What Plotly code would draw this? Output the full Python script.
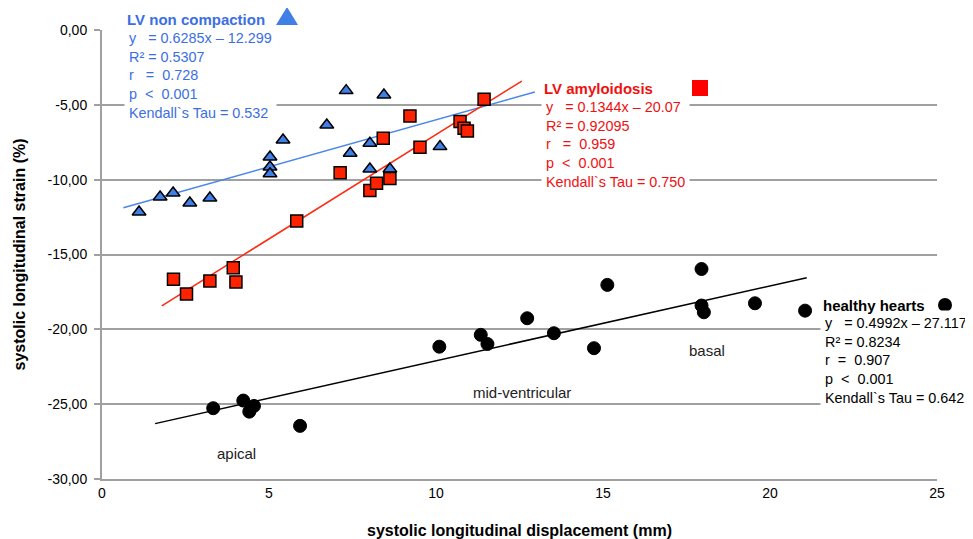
import numpy as np
import plotly.graph_objects as go

# ---------------- data ----------------
lvnc_x = [1.11, 1.74, 2.13, 2.63, 3.23, 5.03, 5.03, 5.03, 5.42, 6.73, 7.31, 7.43, 8.02, 8.02, 8.44, 8.62, 10.12]
lvnc_y = [-12.16, -11.16, -10.89, -11.56, -11.22, -8.48, -9.15, -9.6, -7.35, -6.35, -4.05, -8.24, -9.29, -7.57, -4.34, -9.29, -7.79]

amy_x = [2.14, 2.53, 3.23, 3.93, 4.01, 5.83, 7.13, 8.02, 8.22, 8.62, 8.42, 9.22, 9.52, 10.72, 10.84, 10.94, 11.44]
amy_y = [-16.66, -17.64, -16.77, -15.88, -16.83, -12.76, -9.53, -10.73, -10.24, -9.93, -7.24, -5.74, -7.84, -6.12, -6.57, -6.75, -4.63]

hh_x = [3.33, 4.23, 4.41, 4.55, 5.93, 10.1, 11.34, 11.54, 12.73, 13.53, 14.73, 15.13, 17.95, 17.95, 18.02, 19.55, 21.05]
hh_y = [-25.27, -24.76, -25.5, -25.12, -26.45, -21.16, -20.37, -20.98, -19.26, -20.26, -21.26, -17.03, -15.97, -18.41, -18.86, -18.26, -18.75]

# trendline x-extent of each group
lvnc_trend_range = [0.64, 12.96]
amy_trend_range = [1.79, 12.57]
hh_trend_range = [1.59, 21.1]

x_tickvals = [0, 5, 10, 15, 20, 25]
x_ticktext = ["0", "5", "10", "15", "20", "25"]
y_tickvals = [0, -5, -10, -15, -20, -25, -30]
y_ticktext = ["0,00", "-5,00", "-10,00", "-15,00", "-20,00", "-25,00", "-30,00"]

lvnc_title = "LV non compaction"
lvnc_stats = ["y   = 0.6285x – 12.299", "R² = 0.5307", "r   =  0.728", "p  <  0.001", "Kendall`s Tau = 0.532"]
amy_title = "LV amyloidosis"
amy_stats = ["y   = 0.1344x – 20.07", "R² = 0.92095", "r   =  0.959", "p  <  0.001", "Kendall`s Tau = 0.750"]
hh_title = "healthy hearts"
hh_stats = ["y   = 0.4992x – 27.117", "R² = 0.8234", "r  =  0.907", "p  <  0.001", "Kendall`s Tau = 0.642"]

region_labels = ["apical", "mid-ventricular", "basal"]
region_x = [4.04, 12.57, 18.11]
region_y = [-28.3, -24.25, -21.4]

# ---------------- styles ----------------
BLUE_TXT = "#3b6fe3"
BLUE_FILL = "#3f7fe6"
BLUE_LINE = "#4a86e8"
RED_TXT = "#f01010"
RED_FILL = "#ff2200"
RED_LINE = "#ff2a10"
BLACK = "#000000"
GRID = "#a0a0a0"
FONT = "Liberation Sans, Arial, sans-serif"
NARROW = "Liberation Sans Narrow, Arial Narrow, Liberation Sans, sans-serif"


def trend(xs, ys, rng):
    k, b = np.polyfit(xs, ys, 1)
    xx = np.array(rng)
    return xx, k * xx + b


fig = go.Figure()

for xs, ys, rng, col in [(lvnc_x, lvnc_y, lvnc_trend_range, BLUE_LINE),
                         (amy_x, amy_y, amy_trend_range, RED_LINE),
                         (hh_x, hh_y, hh_trend_range, BLACK)]:
    tx, ty = trend(xs, ys, rng)
    fig.add_trace(go.Scatter(x=tx, y=ty, mode="lines", line=dict(color=col, width=1.5),
                             hoverinfo="skip", showlegend=False))

fig.add_trace(go.Scatter(x=lvnc_x, y=lvnc_y, mode="markers", name=lvnc_title,
                         marker=dict(symbol="triangle-up", size=12, color=BLUE_FILL,
                                     line=dict(color="black", width=1.5))))
fig.add_trace(go.Scatter(x=amy_x, y=amy_y, mode="markers", name=amy_title,
                         marker=dict(symbol="square", size=12, color=RED_FILL,
                                     line=dict(color="black", width=1.5))))
fig.add_trace(go.Scatter(x=hh_x, y=hh_y, mode="markers", name=hh_title,
                         marker=dict(symbol="circle", size=13, color=BLACK,
                                     line=dict(color="black", width=1))))

# ---------------- layout geometry (page body has an 8px margin) ----------------
OFF = 8
W, H = 973 - OFF, 539 - OFF
L, R, T, B = 102 - OFF, 36, 30 - OFF, 60
PW, PH = W - L - R, H - T - B


def px(xp):  # window pixel -> paper x
    return (xp - OFF - L) / PW


def py(yp):  # window pixel -> paper y
    return (H - B - (yp - OFF)) / PH


annos = []
shapes = []


def block(title, stats, color, left, head_y, body_y):
    annos.append(dict(x=px(left - 4), y=py(body_y), xref="paper", yref="paper", xanchor="left",
                      yanchor="middle", align="left", showarrow=False, bgcolor="white",
                      borderpad=4, text="<br>".join(stats),
                      font=dict(family=FONT, size=14.4, color=color)))
    annos.append(dict(x=px(left - 4), y=py(head_y), xref="paper", yref="paper", xanchor="left",
                      yanchor="middle", align="left", showarrow=False, bgcolor="white",
                      borderpad=2, text="<b>" + title + "</b>",
                      font=dict(family=FONT, size=15, color=color)))


block(lvnc_title, lvnc_stats, BLUE_TXT, 128, 20, 76)
block(amy_title, amy_stats, RED_TXT, 545, 88, 144)
block(hh_title, hh_stats, BLACK, 824, 305, 360)

# key glyphs next to each block title
tri = "M {},{} L {},{} L {},{} Z".format(px(276), py(25), px(298), py(25), px(287), py(7))
shapes.append(dict(type="path", xref="paper", yref="paper", path=tri,
                   fillcolor=BLUE_FILL, line=dict(width=0), layer="above"))
shapes.append(dict(type="rect", xref="paper", yref="paper", x0=px(692), x1=px(708),
                   y0=py(96), y1=py(80), fillcolor="#ff0000", line=dict(width=0), layer="above"))
shapes.append(dict(type="circle", xref="paper", yref="paper", x0=px(938), x1=px(952),
                   y0=py(312), y1=py(298), fillcolor=BLACK, line=dict(width=0), layer="above"))

for t, xx, yy in zip(region_labels, region_x, region_y):
    annos.append(dict(x=xx, y=yy, xref="x", yref="y", showarrow=False, text=t,
                      font=dict(family=FONT, size=15, color="#222222")))

fig.update_layout(
    width=W, height=H,
    margin=dict(l=L, r=R, t=T, b=B, autoexpand=False),
    paper_bgcolor="white", plot_bgcolor="white",
    showlegend=False,
    annotations=annos,
    shapes=shapes,
    font=dict(family=FONT, color="black"),
)

fig.update_xaxes(range=[0, 25], tickvals=x_tickvals, ticktext=x_ticktext, showgrid=False,
                 zeroline=False, showline=True, linecolor=GRID, linewidth=2, ticks="",
                 tickfont=dict(family=NARROW, size=14, color="black"),
                 title=dict(text="<b>systolic longitudinal displacement (mm)</b>",
                            font=dict(family=FONT, size=16, color="black"), standoff=25))
fig.update_yaxes(range=[-30, 0], tickvals=y_tickvals, ticktext=y_ticktext, showgrid=True,
                 gridcolor=GRID, gridwidth=1.5, zeroline=False, showline=True, linecolor=GRID,
                 linewidth=2, ticks="outside", ticklen=6, tickcolor=GRID, tickwidth=1.5,
                 ticklabelstandoff=4,
                 tickfont=dict(family=NARROW, size=14, color="black"),
                 title=dict(text="<b>systolic longitudinal strain (%)</b>",
                            font=dict(family=FONT, size=16, color="black"), standoff=18))

fig.write_html("out.html")
